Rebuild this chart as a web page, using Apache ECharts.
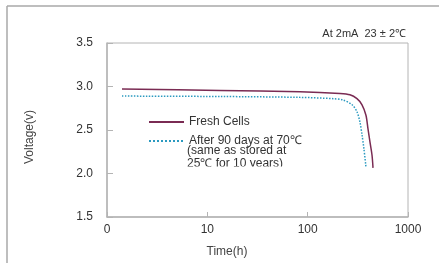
<!DOCTYPE html>
<html>
<head>
<meta charset="utf-8">
<script src="https://cdn.jsdelivr.net/npm/echarts@6/dist/echarts.min.js"></script>
<style>
  html, body { margin: 0; padding: 0; background: #fff; }
  #chart { width: 439px; height: 263px; }
</style>
</head>
<body>
<div id="chart"></div>
<script>
  // discharge curves (time in h, voltage in V)
  var freshTime = [1.41, 13.4, 84, 210, 264, 310, 348, 381, 399, 418, 438, 448];
  var freshVolt = [2.97, 2.955, 2.94, 2.92, 2.905, 2.86, 2.79, 2.67, 2.515, 2.36, 2.21, 2.065];
  var storedTime = [1.41, 13.4, 84, 179, 225, 277, 310, 332, 348, 364, 381];
  var storedVolt = [2.89, 2.885, 2.875, 2.86, 2.845, 2.79, 2.71, 2.59, 2.445, 2.28, 2.075];
  var timeTicks = [1, 10, 100, 1000];
  var timeTickLabels = ['0', '10', '100', '1000'];

  var font = '"Liberation Sans", Arial, sans-serif';
  var axisColor = '#b4b4b4';

  function pairs(xs, ys) {
    var out = [];
    for (var i = 0; i < xs.length; i++) out.push([xs[i], ys[i]]);
    return out;
  }

  // legend shows only the line sample, no symbol
  var noSymbol = { color: 'transparent', borderColor: 'transparent', borderWidth: 0 };

  var chart = echarts.init(document.getElementById('chart'));
  var option = {
    backgroundColor: '#ffffff',
    animation: false,
    textStyle: { fontFamily: font },
    grid: {
      left: 107, right: 31, top: 43, bottom: 46,
      show: true, borderColor: axisColor, borderWidth: 1,
      outerBoundsMode: 'none'
    },
    legend: [
      {
        left: 143, top: 111, itemWidth: 35, itemHeight: 10, itemGap: 9,
        selectedMode: false,
        itemStyle: noSymbol,
        data: ['Fresh Cells'],
        textStyle: { fontSize: 12, color: '#333', padding: [8, 0, 0, 0] }
      },
      {
        left: 143, top: 130, itemWidth: 35, itemHeight: 10, itemGap: 9,
        selectedMode: false,
        itemStyle: noSymbol,
        data: ['After 90 days at 70℃'],
        textStyle: { fontSize: 12, color: '#333' }
      }
    ],
    xAxis: {
      type: 'log', logBase: 10, min: 1, max: 1000,
      name: 'Time(h)', nameLocation: 'middle', nameGap: 29,
      nameTextStyle: { fontSize: 12, color: '#444', padding: [0, 61, 0, 0] },
      axisLine: { lineStyle: { color: axisColor, width: 1.5 } },
      axisTick: { inside: true, length: 5, lineStyle: { color: axisColor } },
      axisLabel: {
        fontSize: 12, color: '#333', margin: 7,
        formatter: function (v) {
          var i = timeTicks.indexOf(v);
          return i >= 0 ? timeTickLabels[i] : '';
        }
      },
      splitLine: { show: false }
    },
    yAxis: {
      type: 'value', min: 1.5, max: 3.5, interval: 0.5,
      axisLine: { show: true, lineStyle: { color: axisColor, width: 1.5 } },
      axisTick: { show: true, inside: true, length: 6, lineStyle: { color: axisColor } },
      axisLabel: {
        fontSize: 12, color: '#333', margin: 14,
        formatter: function (v) { return v.toFixed(1); }
      },
      splitLine: { show: false }
    },
    graphic: [
      { type: 'line', shape: { x1: 7, y1: 6, x2: 439, y2: 6 }, style: { stroke: '#a8a8a8', lineWidth: 1.5 } },
      { type: 'line', shape: { x1: 7, y1: 6, x2: 7, y2: 263 }, style: { stroke: '#a8a8a8', lineWidth: 1.5 } },
      {
        type: 'text', x: 30, y: 137, rotation: Math.PI / 2,
        style: { text: 'Voltage(v)', fontSize: 12, fill: '#444', fontFamily: font, align: 'center', verticalAlign: 'middle' }
      },
      { type: 'text', right: 33, top: 28, style: { text: 'At 2mA  23 ± 2℃', fontSize: 11, fill: '#333', fontFamily: font } },
      { type: 'text', left: 187, top: 145, style: { text: '(same as stored at', fontSize: 12, fill: '#333', fontFamily: font } },
      { type: 'text', left: 187, top: 158, style: { text: '25℃ for 10 years)', fontSize: 12, fill: '#333', fontFamily: font } },
      { type: 'rect', shape: { x: 185, y: 166.5, width: 110, height: 8 }, style: { fill: '#ffffff' }, z: 100 }
    ],
    series: [
      {
        name: 'Fresh Cells', type: 'line', symbol: 'none', smooth: 0.3,
        lineStyle: { color: '#7a2b53', width: 1.5 },
        itemStyle: { color: '#7a2b53' },
        data: pairs(freshTime, freshVolt)
      },
      {
        name: 'After 90 days at 70℃', type: 'line', symbol: 'none', smooth: 0.3,
        lineStyle: { color: '#2b9ac0', width: 1.5, type: 'dotted' },
        itemStyle: { color: '#2b9ac0' },
        data: pairs(storedTime, storedVolt)
      }
    ]
  };
  chart.setOption(option);
</script>
</body>
</html>
